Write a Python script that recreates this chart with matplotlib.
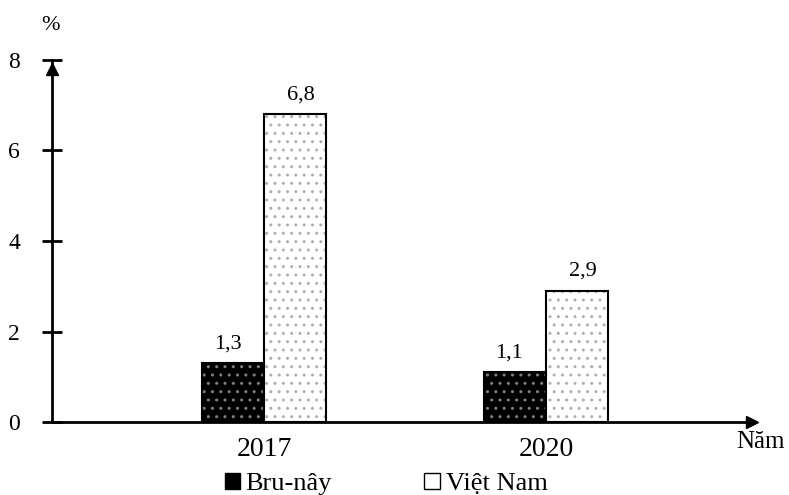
import matplotlib.pyplot as plt
from matplotlib.patches import Patch

years = ['2017', '2020']
bru = [1.3, 1.1]
vn = [6.8, 2.9]
bru_labels = ['1,3', '1,1']
vn_labels = ['6,8', '2,9']
yticks = [0, 2, 4, 6, 8]

plt.rcParams['font.family'] = ['Liberation Serif', 'DejaVu Serif']
plt.rcParams['hatch.linewidth'] = 1.0

fig = plt.figure(figsize=(7.89, 4.95), dpi=100)
ax = fig.add_axes([52/789, 73/495, 700/789, 362/495])

x = list(range(len(years)))
w = 0.22
xb = [i - w/2 for i in x]
xv = [i + w/2 for i in x]

# fill with pattern, then black outline on top
ax.bar(xb, bru, w, color='black', edgecolor='#808080', hatch='..', linewidth=0)
ax.bar(xb, bru, w, fill=False, edgecolor='black', linewidth=1.5)
ax.bar(xv, vn, w, color='white', edgecolor='#b0b0b0', hatch='..', linewidth=0)
ax.bar(xv, vn, w, fill=False, edgecolor='black', linewidth=1.5)

for i in x:
    ax.text(xb[i] - 0.02, bru[i] + 0.22, bru_labels[i], ha='center', va='bottom', fontsize=16)
    ax.text(xv[i] + 0.02, vn[i] + 0.22, vn_labels[i], ha='center', va='bottom', fontsize=16)

ax.set_xlim(-0.752, 1.73)
ax.set_ylim(0, 8)
ax.set_xticks(x)
ax.set_xticklabels(years, fontsize=20)
ax.set_yticks(yticks)
ax.set_yticklabels([str(t) for t in yticks], fontsize=17)
ax.tick_params(axis='x', length=0, pad=11)
ax.tick_params(axis='y', direction='inout', length=14, width=2, pad=16)

for s in ['top', 'right']:
    ax.spines[s].set_visible(False)
for s in ['left', 'bottom']:
    ax.spines[s].set_linewidth(2)

# axis arrows
ax.plot(0, 0.975, marker='^', color='black', markersize=8, transform=ax.transAxes, clip_on=False)
ax.plot(1, 0, marker='>', color='black', markersize=9, transform=ax.transAxes, clip_on=False)

fig.text(50/789, 1 - 26/495, '%', fontsize=16, ha='center', va='center')
fig.text(760/789, 1 - 442/495, 'Năm', fontsize=18, ha='center', va='center')

handles = [Patch(facecolor='black', edgecolor='black'),
           Patch(facecolor='white', edgecolor='black')]
fig.legend(handles, ['Bru-nây', 'Việt Nam'], loc='center', bbox_to_anchor=(386/789, 1 - 484/495),
           ncol=2, frameon=False, fontsize=19, handlelength=0.6, handleheight=0.6,
           handletextpad=0.2, columnspacing=3.5, borderpad=0)

fig.savefig('out.png', dpi=100)
